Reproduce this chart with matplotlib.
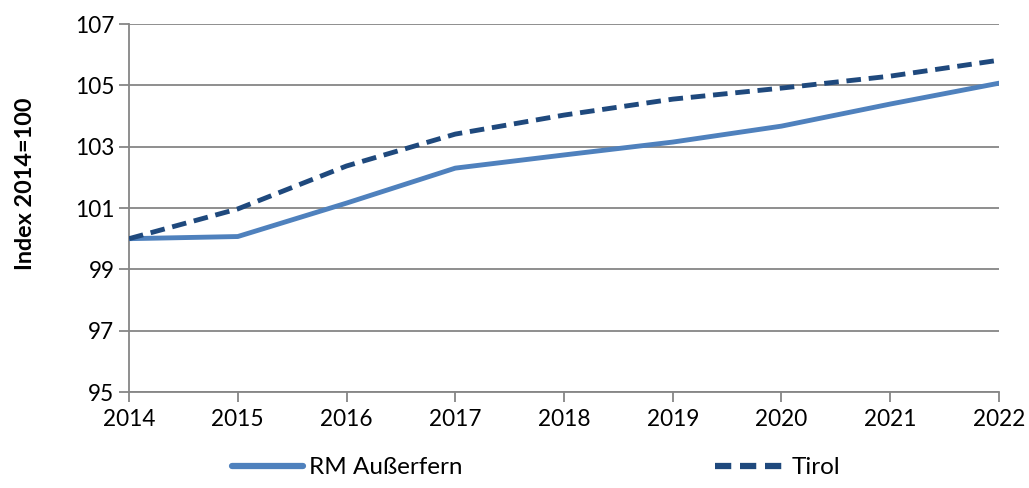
import matplotlib.pyplot as plt
from matplotlib.lines import Line2D

plt.rcParams['font.family'] = ['Lato', 'DejaVu Sans']

years = [2014, 2015, 2016, 2017, 2018, 2019, 2020, 2021, 2022]
ausserfern = [100.0, 100.07, 101.16, 102.30, 102.73, 103.15, 103.67, 104.39, 105.07]
tirol = [100.0, 100.97, 102.37, 103.41, 104.03, 104.55, 104.91, 105.30, 105.82]
yticks = [95, 97, 99, 101, 103, 105, 107]

fig = plt.figure(figsize=(10.29, 4.88), dpi=100)
ax = fig.add_axes([0.1254, 0.1967, 0.8454, 0.7541])

grid_col = '#868686'
ax.plot(years, ausserfern, color='#4F81BD', lw=3.5, solid_capstyle='round', zorder=3)
ax.plot(years, tirol, color='#1F497D', lw=3.5, ls=(0, (3, 1.6)), zorder=4)

ax.set_xlim(2014, 2022)
ax.set_ylim(95, 107)
ax.set_xticks(years)
ax.set_yticks(yticks)
ax.tick_params(labelsize=16.3, colors=grid_col, labelcolor='black', length=7, width=1.3)
ax.tick_params(axis='x', pad=5)
ax.grid(axis='y', color=grid_col, lw=1.3)
ax.set_axisbelow(True)
for s in ['top', 'right']:
    ax.spines[s].set_visible(False)
for s in ['left', 'bottom']:
    ax.spines[s].set_color(grid_col)
    ax.spines[s].set_linewidth(1.3)

ax.set_ylabel('Index 2014=100', fontsize=16.8, fontweight='bold')
ax.yaxis.set_label_coords(-0.107, 0.565)

handles = [Line2D([], [], color='#4F81BD', lw=4.5, solid_capstyle='round'),
           Line2D([], [], color='#1F497D', lw=4.5, ls=(0, (2.6, 1.4)))]
fig.legend(handles, ['RM Außerfern', 'Tirol'], loc='lower center',
           bbox_to_anchor=(0.521, -0.025), ncol=2, frameon=False, fontsize=17.5,
           handlelength=2.9, columnspacing=10.4, handletextpad=0.25)

fig.savefig('out.png', dpi=100)
